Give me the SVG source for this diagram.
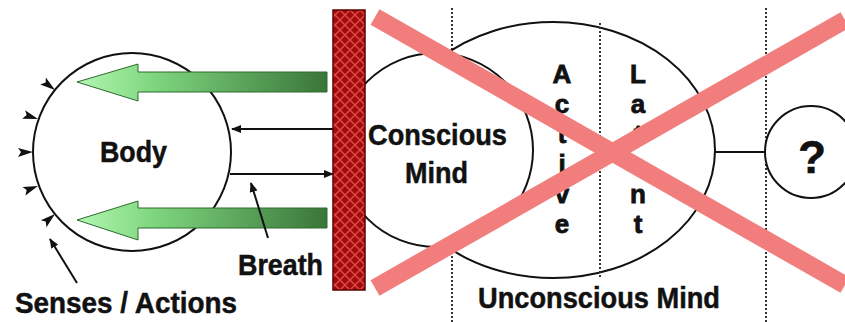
<svg xmlns="http://www.w3.org/2000/svg" width="845" height="322" viewBox="0 0 845 322">
<style>
  .t { font-family: "Liberation Sans", Arial, sans-serif; font-weight: bold; font-size: 30px; fill: #111; stroke: #111; stroke-width: 0.5; }
  .v { font-size: 26px; stroke-width: 0.8; text-anchor: middle; }
  .ol { fill: #fff; stroke: #111; stroke-width: 2; }
  .dot { stroke: #333; stroke-width: 2; stroke-dasharray: 2 2; fill: none; }
  .ln { stroke: #111; stroke-width: 2; fill: none; }
  .x { stroke: #f27d7d; stroke-width: 18; stroke-linecap: butt; fill: none; }
  .tick { fill: #111; }
  .garrow { fill: url(#gg); stroke: #2f6a2f; stroke-width: 1; }
</style>
<defs>
  <linearGradient id="gg" gradientUnits="userSpaceOnUse" x1="77" y1="0" x2="327" y2="0">
    <stop offset="0" stop-color="#b2f7b2"/>
    <stop offset="0.3" stop-color="#7fd77f"/>
    <stop offset="1" stop-color="#397539"/>
  </linearGradient>
  <pattern id="brick" patternUnits="userSpaceOnUse" width="10" height="10">
    <rect width="10" height="10" fill="#a00c0c"/>
    <path d="M0,0 L10,10 M10,0 L0,10" stroke="#e24848" stroke-width="1.4"/>
  </pattern>
  <marker id="ah" markerWidth="10" markerHeight="8" refX="9" refY="4" orient="auto" markerUnits="userSpaceOnUse">
    <path d="M0,0 L10,4 L0,8 z" fill="#111"/>
  </marker>
  <path id="tk" d="M0,0 L15,-5 L12,0 L15,4 z"/>
</defs>

<g id="guides">
  <line class="dot" x1="452" y1="8" x2="452" y2="322"/>
  <line class="dot" x1="766" y1="8" x2="766" y2="322"/>
</g>

<g id="unconscious">
  <ellipse class="ol" cx="553" cy="150" rx="162" ry="128"/>
  <line class="dot" x1="600" y1="23" x2="600" y2="277"/>
</g>

<g id="conscious">
  <circle class="ol" cx="436" cy="150" r="97"/>
</g>

<g id="unknown">
  <circle class="ol" cx="811" cy="152" r="46"/>
</g>

<g id="body">
  <circle class="ol" cx="132" cy="152" r="99"/>
  <use href="#tk" class="tick" transform="translate(55,90) rotate(-141)"/>
  <use href="#tk" class="tick" transform="translate(38,119) rotate(-161)"/>
  <use href="#tk" class="tick" transform="translate(33,152) rotate(180)"/>
  <use href="#tk" class="tick" transform="translate(38,186) rotate(161)"/>
  <use href="#tk" class="tick" transform="translate(55,214) rotate(141)"/>
</g>

<g id="connectors">
  <polygon class="garrow" points="77,82 138,64 138,72 327,72 327,92 138,92 138,101"/>
  <polygon class="garrow" points="77,220 138,201 138,208 327,208 327,228 138,228 138,240"/>
  <line class="ln" x1="333" y1="129" x2="232" y2="129" marker-end="url(#ah)"/>
  <line class="ln" x1="230" y1="174" x2="333" y2="174" marker-end="url(#ah)"/>
  <line class="ln" x1="268" y1="238" x2="251" y2="183" marker-end="url(#ah)"/>
  <line class="ln" x1="77" y1="283" x2="50" y2="239" marker-end="url(#ah)"/>
  <line class="ln" x1="715" y1="152" x2="765" y2="152"/>
</g>

<g id="wall">
  <rect x="333" y="10" width="32" height="280" fill="url(#brick)" stroke="#5c0000" stroke-width="1.5"/>
</g>

<g id="labels">
  <text class="t" x="100" y="162" textLength="67" lengthAdjust="spacingAndGlyphs">Body</text>
  <text class="t" x="368" y="145" textLength="139" lengthAdjust="spacingAndGlyphs">Conscious</text>
  <text class="t" x="405" y="183" textLength="63" lengthAdjust="spacingAndGlyphs">Mind</text>
  <text class="t" x="478" y="308" textLength="242" lengthAdjust="spacingAndGlyphs">Unconscious Mind</text>
  <text class="t" x="238" y="275" textLength="85" lengthAdjust="spacingAndGlyphs">Breath</text>
  <text class="t" x="15" y="313" textLength="222" lengthAdjust="spacingAndGlyphs">Senses / Actions</text>
  <text class="t" x="812" y="173" text-anchor="middle" style="font-size:46px">?</text>
  <text class="t v" x="562" y="83">A</text>
  <text class="t v" x="562" y="113">c</text>
  <text class="t v" x="562" y="143">t</text>
  <text class="t v" x="562" y="173">i</text>
  <text class="t v" x="562" y="203">v</text>
  <text class="t v" x="562" y="233">e</text>
  <text class="t v" x="638" y="83">L</text>
  <text class="t v" x="638" y="113">a</text>
  <text class="t v" x="638" y="143">t</text>
  <text class="t v" x="638" y="173">e</text>
  <text class="t v" x="638" y="203">n</text>
  <text class="t v" x="638" y="233">t</text>
</g>

<g id="cross">
  <line class="x" x1="375" y1="17" x2="845" y2="285"/>
  <line class="x" x1="375" y1="288" x2="845" y2="20"/>
</g>
</svg>
